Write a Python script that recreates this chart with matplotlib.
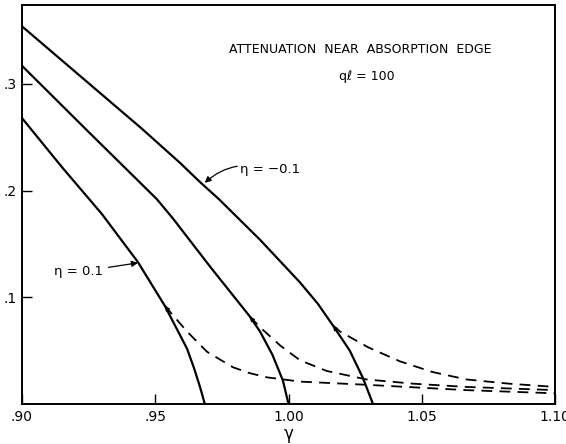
import matplotlib
matplotlib.use("Agg")
import matplotlib.pyplot as plt

# solid curves (gamma, attenuation)
xa = [0.900, 0.915, 0.930, 0.945, 0.9593, 0.9668, 0.9739, 0.9893, 1.0043, 1.0110, 1.0167, 1.023, 1.028, 1.0317]
ya = [0.354, 0.322, 0.290, 0.258, 0.226, 0.208, 0.192, 0.154, 0.114, 0.094, 0.0735, 0.050, 0.024, 0.0]
xb = [0.900, 0.925, 0.9506, 0.9566, 0.9705, 0.9855, 0.9893, 0.994, 0.9979, 1.000]
yb = [0.317, 0.255, 0.192, 0.174, 0.129, 0.082, 0.068, 0.046, 0.022, 0.0]
xc = [0.900, 0.915, 0.930, 0.9435, 0.9536, 0.9619, 0.9645, 0.9668, 0.9686]
yc = [0.268, 0.222, 0.178, 0.133, 0.092, 0.052, 0.034, 0.016, 0.0]

# dashed branches
xd1 = [0.9536, 0.9619, 0.9694, 0.9791, 0.9853, 0.9919, 1.0043, 1.0293, 1.0668, 1.100]
yd1 = [0.092, 0.068, 0.049, 0.0345, 0.029, 0.025, 0.021, 0.018, 0.013, 0.010]
xd2 = [0.9855, 0.9893, 0.9968, 1.0043, 1.0143, 1.0293, 1.0470, 1.0668, 1.100]
yd2 = [0.082, 0.072, 0.055, 0.041, 0.031, 0.023, 0.019, 0.016, 0.013]
xd3 = [1.0167, 1.0193, 1.030, 1.0418, 1.054, 1.0668, 1.083, 1.100]
yd3 = [0.0735, 0.068, 0.053, 0.040, 0.030, 0.023, 0.019, 0.016]

xticks = [0.90, 0.95, 1.00, 1.05, 1.10]
xlabels = [".90", ".95", "1.00", "1.05", "1.10"]
yticks = [0.1, 0.2, 0.3]
ylabels = [".1", ".2", ".3"]

fig = plt.figure(figsize=(5.66, 4.44), dpi=100)
ax = fig.add_axes([22/566, 1-404/444, (555-22)/566, (404-5)/444])

ax.plot(xa, ya, 'k-', lw=1.6)
ax.plot(xb, yb, 'k-', lw=1.6)
ax.plot(xc, yc, 'k-', lw=1.6)
for xs, ys in [(xd1, yd1), (xd2, yd2), (xd3, yd3)]:
    ax.plot(xs, ys, 'k--', lw=1.3, dashes=(6, 4))

# small arrowheads where the dashed branches leave the solid curves
for xs, ys in [(xd1, yd1), (xd2, yd2), (xd3, yd3)]:
    ax.annotate("", xy=(xs[0], ys[0]), xytext=(xs[0] + 0.0012, ys[0] - 0.004),
                arrowprops=dict(arrowstyle='-|>', color='k', lw=0.8, mutation_scale=7))

ax.set_xlim(0.90, 1.10)
ax.set_ylim(0, 0.374)
ax.set_xticks(xticks)
ax.set_xticklabels(xlabels)
ax.set_yticks(yticks)
ax.set_yticklabels(ylabels)
ax.tick_params(direction='in', length=7, width=1, labelsize=10, pad=4)
for s in ax.spines.values():
    s.set_linewidth(1.4)
ax.set_xlabel("γ", fontsize=12, labelpad=1)

ax.text(1.0268, 0.332, "ATTENUATION  NEAR  ABSORPTION  EDGE", ha='center', va='center', fontsize=9)
ax.text(1.0294, 0.307, "qℓ = 100", ha='center', va='center', fontsize=9)

ax.annotate("η = −0.1", xy=(0.9686, 0.2073), xytext=(0.9818, 0.2195), fontsize=9.5,
            ha='left', va='center',
            arrowprops=dict(arrowstyle='-|>', color='k', lw=0.9, mutation_scale=9,
                            connectionstyle='arc3,rad=0.3', shrinkA=0, shrinkB=0))
ax.annotate("η = 0.1", xy=(0.9435, 0.1323), xytext=(0.9304, 0.1238), fontsize=9.5,
            ha='right', va='center',
            arrowprops=dict(arrowstyle='-|>', color='k', lw=0.9, mutation_scale=9,
                            shrinkA=2, shrinkB=0))

fig.savefig("out.png", dpi=100)
